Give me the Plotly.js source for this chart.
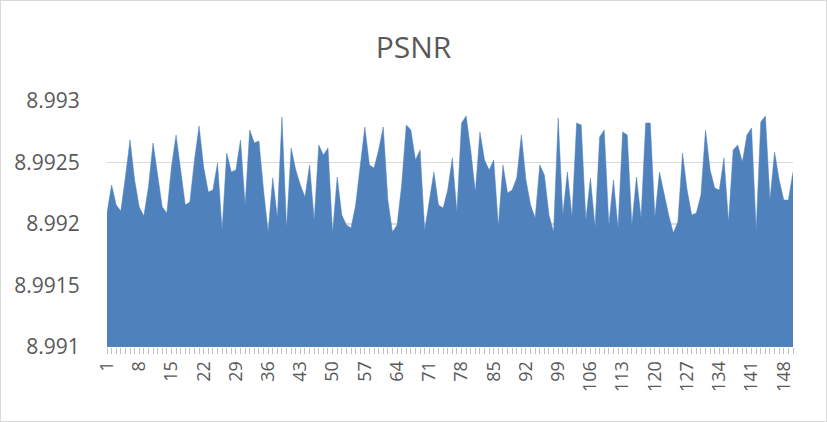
<!DOCTYPE html>
<html>
<head>
<meta charset="utf-8">
<script src="https://cdn.plot.ly/plotly-3.0.1.min.js"></script>
<style>
  html, body { margin: 0; padding: 0; background: #fff; }
  #chart { width: 827px; height: 422px; box-sizing: border-box; border: 1px solid #d9d9d9; }
</style>
</head>
<body>
<div id="chart"></div>
<script>
// Category index 1..150
var categories = [];
for (var i = 1; i <= 150; i++) categories.push(i);

// PSNR values
var psnr = [
  8.992089, 8.992317, 8.992154, 8.992106, 8.992382, 8.992683, 8.992358, 8.992138, 8.992065, 8.992301,
  8.992659, 8.992382, 8.992138, 8.992089, 8.992463, 8.992724, 8.992415, 8.992154, 8.992179, 8.992520,
  8.992797, 8.992463, 8.992260, 8.992276, 8.992496, 8.991951, 8.992577, 8.992423, 8.992439, 8.992683,
  8.992154, 8.992764, 8.992659, 8.992675, 8.992276, 8.991935, 8.992374, 8.992049, 8.992870, 8.991967,
  8.992618, 8.992439, 8.992317, 8.992220, 8.992480, 8.992033, 8.992642, 8.992561, 8.992618, 8.991927,
  8.992382, 8.992073, 8.991992, 8.991967, 8.992154, 8.992480, 8.992789, 8.992480, 8.992455, 8.992602,
  8.992789, 8.992195, 8.991935, 8.991992, 8.992317, 8.992805, 8.992764, 8.992520, 8.992602, 8.991951,
  8.992195, 8.992423, 8.992154, 8.992130, 8.992276, 8.992537, 8.992098, 8.992821, 8.992878, 8.992602,
  8.992260, 8.992748, 8.992520, 8.992439, 8.992520, 8.991984, 8.992480, 8.992252, 8.992276, 8.992374,
  8.992724, 8.992358, 8.992154, 8.992049, 8.992480, 8.992398, 8.992073, 8.991935, 8.992862, 8.992073,
  8.992423, 8.992057, 8.992821, 8.992805, 8.992033, 8.992374, 8.991976, 8.992707, 8.992764, 8.991992,
  8.992358, 8.991967, 8.992748, 8.992724, 8.991992, 8.992382, 8.992049, 8.992821, 8.992821, 8.992057,
  8.992423, 8.992236, 8.992073, 8.991927, 8.992016, 8.992577, 8.992276, 8.992073, 8.992089, 8.992236,
  8.992764, 8.992439, 8.992293, 8.992276, 8.992537, 8.992016, 8.992602, 8.992642, 8.992504, 8.992724,
  8.992780, 8.991951, 8.992829, 8.992878, 8.992195, 8.992585, 8.992358, 8.992195, 8.992195, 8.992423
];

var yTickVals = [8.991, 8.9915, 8.992, 8.9925, 8.993];
var yTickText = ["8.991", "8.9915", "8.992", "8.9925", "8.993"];
var xTickVals = [1, 8, 15, 22, 29, 36, 43, 50, 57, 64, 71, 78, 85, 92, 99, 106, 113, 120, 127, 134, 141, 148];
var xTickText = xTickVals.map(String);

var trace = {
  x: categories,
  y: psnr,
  type: 'scatter',
  mode: 'lines',
  fill: 'tozeroy',
  fillcolor: '#4f81bd',
  line: { color: '#4f81bd', width: 0.5 },
  hoverinfo: 'skip'
};

var layout = {
  width: 825,
  height: 420,
  margin: { l: 106, r: 33, t: 100, b: 74, pad: 0 },
  paper_bgcolor: '#ffffff',
  plot_bgcolor: '#ffffff',
  showlegend: false,
  font: { family: 'Open Sans, sans-serif', color: '#595959' },
  title: {
    text: 'PSNR',
    font: { family: 'Open Sans, sans-serif', size: 30, color: '#595959' },
    x: 0.5, xref: 'container', xanchor: 'center',
    y: 1 - 46 / 420, yref: 'container', yanchor: 'middle'
  },
  xaxis: {
    type: 'linear',
    range: [1, 150],
    tickvals: xTickVals,
    ticktext: xTickText,
    tickangle: -90,
    ticks: 'outside',
    ticklen: 6,
    tickwidth: 1,
    tickcolor: '#bfbfbf',
    minor: { tickvals: categories, ticks: 'outside', ticklen: 6, tickcolor: '#bfbfbf', tickwidth: 1, showgrid: false },
    showgrid: false,
    zeroline: false,
    showline: false,
    tickfont: { size: 18, color: '#595959' }
  },
  yaxis: {
    range: [8.991, 8.993],
    tickvals: yTickVals,
    ticktext: yTickText,
    showgrid: true,
    gridcolor: '#d9d9d9',
    gridwidth: 1.5,
    zeroline: false,
    showline: false,
    ticks: 'outside',
    ticklen: 22,
    tickcolor: 'rgba(0,0,0,0)',
    tickfont: { size: 21, color: '#595959' }
  }
};

Plotly.newPlot('chart', [trace], layout, { staticPlot: true, displayModeBar: false });
</script>
</body>
</html>
